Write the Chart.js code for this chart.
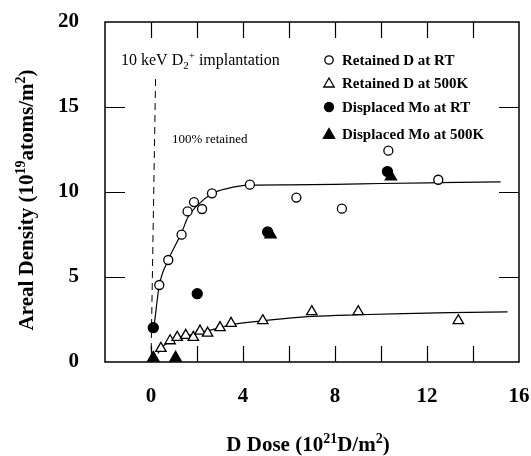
<!DOCTYPE html>
<html><head><meta charset="utf-8">
<script src="https://cdn.jsdelivr.net/npm/chart.js@4"></script>
<style>html,body{margin:0;padding:0;background:#fff}#wrap{width:531px;height:456px}</style>
</head><body><div id="wrap"><canvas id="c" width="531" height="456"></canvas></div>
<script>
// ---- data ----
const xTicks = [0, 4, 8, 12, 16];
const yTicks = [0, 5, 10, 15, 20];
const xMinorTicks = [0, 2, 4, 6, 8, 10, 12, 14];

const retainedRT_x = [0.36, 0.75, 1.33, 1.59, 1.87, 2.22, 2.65, 4.30, 6.32, 8.30, 10.32, 12.49];
const retainedRT_y = [4.53, 6.0, 7.49, 8.86, 9.41, 9.0, 9.92, 10.43, 9.67, 9.02, 12.43, 10.72];

const retained500_x = [0.43, 0.83, 1.14, 1.51, 1.84, 2.13, 2.46, 3.0, 3.48, 4.86, 6.99, 9.01, 13.36];
const retained500_y = [0.8, 1.25, 1.45, 1.57, 1.45, 1.82, 1.7, 2.02, 2.27, 2.43, 2.96, 2.96, 2.43];

const displacedRT_x = [0.1, 2.01, 5.07, 10.28];
const displacedRT_y = [2.02, 4.02, 7.65, 11.2];

const displaced500_x = [0.1, 1.07, 5.2, 10.43];
const displaced500_y = [0.25, 0.25, 7.5, 10.9];

// hand-drawn guide curves
const fitRT_x = [0.15, 0.36, 0.75, 1.33, 1.6, 2.0, 2.65, 3.3, 4.3, 6, 8, 10, 12.5, 15.2];
const fitRT_y = [2.3, 4.5, 6.0, 7.6, 8.5, 9.2, 9.9, 10.2, 10.4, 10.42, 10.45, 10.5, 10.55, 10.6];
const fit500_x = [0.3, 0.43, 0.83, 1.2, 1.6, 2.1, 2.5, 3.0, 3.5, 4.9, 5.8, 7, 9, 11, 13, 15.5];
const fit500_y = [0.5, 0.8, 1.2, 1.42, 1.55, 1.72, 1.85, 2.02, 2.2, 2.43, 2.55, 2.68, 2.78, 2.85, 2.9, 2.95];
const full_x = [0, 0.2];
const full_y = [0, 16.8];

const legendLabels = ['Retained D at RT', 'Retained D at 500K', 'Displaced Mo at RT', 'Displaced Mo at 500K'];

// ---- build ----
const pts = (xs, ys) => xs.map((x, i) => ({x, y: ys[i]}));
const SERIF = '"Liberation Serif", "Times New Roman", serif';

const lineDs = (xs, ys, extra) => Object.assign({
  data: pts(xs, ys), showLine: true, borderColor: '#000', borderWidth: 1.2,
  pointRadius: 0, fill: false, cubicInterpolationMode: 'monotone', order: 10
}, extra || {});

const markDs = (xs, ys, style, r, filled) => ({
  data: pts(xs, ys), showLine: false, pointStyle: style, pointRadius: r,
  pointBackgroundColor: filled ? '#000' : '#fff', pointBorderColor: '#000',
  pointBorderWidth: 1.3, order: 1
});

function drawRich(ctx, segs, x, y, size) {
  const fontFor = s => `bold ${s.sup || s.sub ? Math.round(size * 0.68) : size}px ${SERIF}`;
  let total = 0;
  segs.forEach(s => { ctx.font = fontFor(s); total += ctx.measureText(s.t).width; });
  let cx = x - total / 2;
  segs.forEach(s => {
    ctx.font = fontFor(s);
    const dy = s.sup ? -size * 0.38 : (s.sub ? size * 0.25 : 0);
    ctx.fillText(s.t, cx, y + dy);
    cx += ctx.measureText(s.t).width;
  });
}

function drawLeft(ctx, segs, x, y, size, bold) {
  let cx = x;
  segs.forEach(s => {
    ctx.font = `${bold ? 'bold ' : ''}${s.sup || s.sub ? Math.round(size * 0.68) : size}px ${SERIF}`;
    const dy = s.sup ? -size * 0.38 : (s.sub ? size * 0.28 : 0);
    ctx.fillText(s.t, cx, y + dy);
    cx += ctx.measureText(s.t).width;
  });
}

function marker(ctx, style, filled, x, y, r) {
  ctx.save();
  ctx.beginPath();
  if (style === 'circle') {
    ctx.arc(x, y, r, 0, Math.PI * 2);
  } else {
    ctx.moveTo(x, y - r);
    ctx.lineTo(x + r * 0.866, y + r * 0.5);
    ctx.lineTo(x - r * 0.866, y + r * 0.5);
    ctx.closePath();
  }
  ctx.fillStyle = filled ? '#000' : '#fff';
  ctx.fill();
  ctx.lineWidth = 1.3; ctx.strokeStyle = '#000';
  ctx.stroke();
  ctx.restore();
}

const decor = {
  id: 'decor',
  afterDraw(chart) {
    const ctx = chart.ctx, a = chart.chartArea;
    const xs = chart.scales.x, ys = chart.scales.y;
    ctx.save();
    ctx.strokeStyle = '#000'; ctx.fillStyle = '#000';
    // frame
    ctx.lineWidth = 1.5;
    ctx.strokeRect(a.left, a.top, a.right - a.left, a.bottom - a.top);
    // inward ticks
    ctx.lineWidth = 1.2;
    ctx.beginPath();
    xMinorTicks.forEach(v => {
      const px = Math.round(xs.getPixelForValue(v)) + 0.5;
      ctx.moveTo(px, a.top); ctx.lineTo(px, a.top + 16);
      ctx.moveTo(px, a.bottom); ctx.lineTo(px, a.bottom - 16);
    });
    yTicks.forEach(v => {
      if (v === 0 || v === 20) return;
      const py = Math.round(ys.getPixelForValue(v)) + 0.5;
      ctx.moveTo(a.left, py); ctx.lineTo(a.left + 20, py);
      ctx.moveTo(a.right, py); ctx.lineTo(a.right - 20, py);
    });
    ctx.stroke();

    // axis titles
    ctx.textBaseline = 'alphabetic';
    ctx.textAlign = 'left';
    drawRich(ctx, [{t: 'D Dose (10'}, {t: '21', sup: true}, {t: 'D/m'}, {t: '2', sup: true}, {t: ')'}], 308, 451, 21);
    ctx.save();
    ctx.translate(33, 200);
    ctx.rotate(-Math.PI / 2);
    drawRich(ctx, [{t: 'Areal Density (10'}, {t: '19', sup: true}, {t: 'atoms/m'}, {t: '2', sup: true}, {t: ')'}], 0, 0, 21);
    ctx.restore();

    // annotations
    drawLeft(ctx, [{t: '10 keV D'}, {t: '2', sub: true}, {t: '+', sup: true}, {t: ' implantation'}], 121, 65, 16, false);
    ctx.font = `13px ${SERIF}`;
    ctx.fillText('100% retained', 172, 143);

    // legend
    const rows = [60, 83, 107, 134];
    const styles = [['circle', false, 4.2], ['triangle', false, 6], ['circle', true, 4.5], ['triangle', true, 6.5]];
    rows.forEach((ry, i) => {
      marker(ctx, styles[i][0], styles[i][1], 329, ry + (styles[i][0] === 'triangle' ? 1 : 0), styles[i][2]);
      ctx.font = `bold 15px ${SERIF}`;
      ctx.fillStyle = '#000';
      ctx.fillText(legendLabels[i], 342, ry + 5);
    });
    ctx.restore();
  }
};

new Chart(document.getElementById('c'), {
  type: 'scatter',
  data: {
    datasets: [
      lineDs(fitRT_x, fitRT_y),
      lineDs(fit500_x, fit500_y),
      lineDs(full_x, full_y, {borderDash: [7, 5], borderWidth: 1, cubicInterpolationMode: 'default'}),
      markDs(retainedRT_x, retainedRT_y, 'circle', 4.5, false),
      markDs(retained500_x, retained500_y, 'triangle', 6, false),
      markDs(displacedRT_x, displacedRT_y, 'circle', 5, true),
      markDs(displaced500_x, displaced500_y, 'triangle', 6.5, true)
    ]
  },
  options: {
    responsive: false, animation: false, devicePixelRatio: 1,
    layout: {padding: {top: 22, right: 12, left: 0, bottom: 0}},
    plugins: {legend: {display: false}, tooltip: {enabled: false}},
    scales: {
      x: {
        type: 'linear', min: -2, max: 16,
        afterBuildTicks: s => { s.ticks = xTicks.map(v => ({value: v})); },
        afterFit: s => { s.height = 94; s.paddingLeft = 0; s.paddingRight = 0; },
        grid: {display: false, drawTicks: false}, border: {display: false},
        ticks: {color: '#000', padding: 22, maxRotation: 0, font: {family: SERIF, weight: 'bold', size: 21}}
      },
      y: {
        type: 'linear', min: 0, max: 20,
        afterBuildTicks: s => { s.ticks = yTicks.map(v => ({value: v})); },
        afterFit: s => { s.width = 105; s.paddingTop = 0; s.paddingBottom = 0; },
        grid: {display: false, drawTicks: false}, border: {display: false},
        ticks: {color: '#000', padding: 26, font: {family: SERIF, weight: 'bold', size: 21}}
      }
    }
  },
  plugins: [decor]
});
</script>
</body></html>
